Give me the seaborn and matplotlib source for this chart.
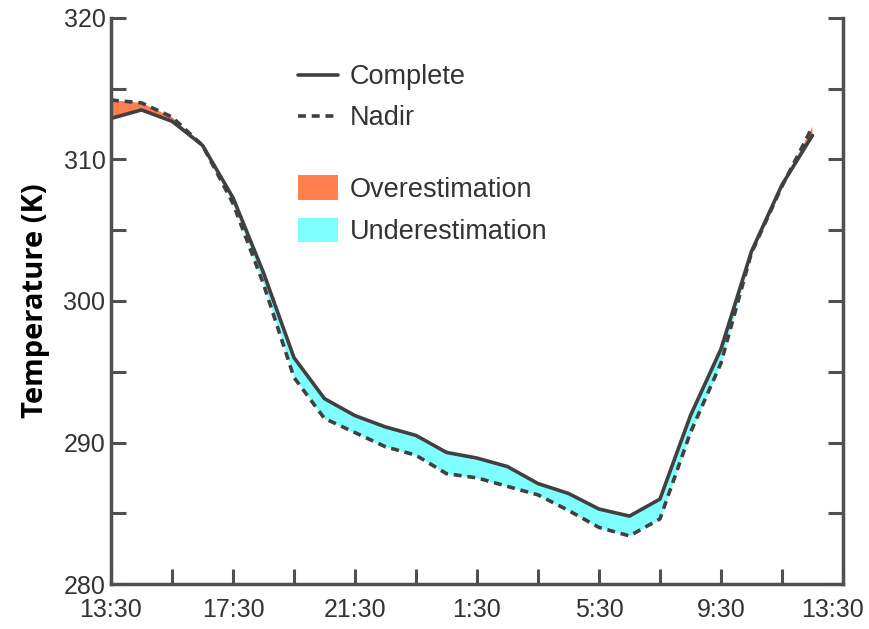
import matplotlib
matplotlib.use("Agg")
import matplotlib.pyplot as plt
import matplotlib.patches as mpatches
import matplotlib.transforms as mtransforms
from matplotlib.lines import Line2D
import numpy as np
import pandas as pd
import seaborn as sns

# hourly samples starting at 13:30
hours = list(range(24))
complete = [312.9, 313.5, 312.7, 311.0, 307.3, 302.0, 296.0, 293.1, 291.9, 291.1,
            290.5, 289.3, 288.9, 288.3, 287.1, 286.4, 285.3, 284.8, 286.0, 291.9,
            296.6, 303.5, 308.2, 311.7]
nadir = [314.2, 314.0, 313.0, 311.0, 306.9, 301.2, 294.6, 291.7, 290.7, 289.7,
         289.1, 287.8, 287.5, 286.9, 286.3, 285.2, 284.0, 283.4, 284.6, 290.7,
         295.6, 303.4, 308.1, 312.3]
tick_hours = list(range(0, 25, 2))
tick_labels = ["13:30", "", "17:30", "", "21:30", "", "1:30", "", "5:30", "", "9:30", "", "13:30"]

sns.set_style("white")
plt.rcParams["font.family"] = ["Liberation Sans", "DejaVu Sans"]

df = pd.DataFrame({"hour": hours, "Complete": complete, "Nadir": nadir})

fig = plt.figure(figsize=(8.69, 6.29), dpi=100)
ax = fig.add_axes([0.1277, 0.0715, 0.8423, 0.9])

over_c = "#FF7F4F"
under_c = "#7FFFFF"
line_c = "#404040"
spine_c = "#505050"
text_c = "#333333"

x = np.array(hours, dtype=float)
c = np.array(complete)
n = np.array(nadir)
ax.fill_between(x, c, n, where=n >= c, interpolate=True, color=over_c, lw=0)
ax.fill_between(x, c, n, where=n <= c, interpolate=True, color=under_c, lw=0)

sns.lineplot(data=df, x="hour", y="Complete", ax=ax, color=line_c, lw=2.6)
sns.lineplot(data=df, x="hour", y="Nadir", ax=ax, color=line_c, lw=2.6,
             linestyle=(0, (2.2, 1.6)))

ax.set_xlim(0, 24)
ax.set_ylim(280, 320)
ax.set_xticks(tick_hours)
ax.set_xticklabels(tick_labels)
ax.set_yticks(range(280, 321, 5))
ax.set_yticklabels([str(v) if v % 10 == 0 else "" for v in range(280, 321, 5)])

ax.set_xlabel("")
ax.set_ylabel("Temperature (K)", fontsize=21, fontweight="bold", family=["Open Sans"],
              labelpad=10, color="black")

for side in ["left", "bottom", "right"]:
    ax.spines[side].set_visible(True)
    ax.spines[side].set_color(spine_c)
    ax.spines[side].set_linewidth(2.5)
ax.spines["top"].set_visible(False)

ax.tick_params(axis="both", direction="in", length=11, width=2.2, color=spine_c,
               labelsize=18, labelcolor=text_c)
ax.tick_params(axis="y", right=True, left=True, pad=4)
ax.tick_params(axis="x", bottom=True, pad=10)

# last label sits a bit left of its tick, like the original
last = ax.get_xticklabels()[-1]
last.set_transform(last.get_transform() + mtransforms.ScaledTranslation(-0.1, 0, fig.dpi_scale_trans))

h1 = [Line2D([], [], color=line_c, lw=2.6),
      Line2D([], [], color=line_c, lw=2.6, linestyle=(0, (2.2, 1.6)))]
leg1 = ax.legend(h1, ["Complete", "Nadir"], loc="upper left", bbox_to_anchor=(0.255, 0.918),
                 frameon=False, fontsize=19.5, handlelength=1.5, handletextpad=0.42,
                 labelspacing=0.55, borderpad=0, borderaxespad=0, labelcolor=text_c)
ax.add_artist(leg1)
h2 = [mpatches.Patch(color=over_c, lw=0), mpatches.Patch(color=under_c, lw=0)]
ax.legend(h2, ["Overestimation", "Underestimation"], loc="upper left",
          bbox_to_anchor=(0.255, 0.722), frameon=False, fontsize=19.5, handlelength=1.5,
          handleheight=1.0, handletextpad=0.42, labelspacing=0.55, borderpad=0,
          borderaxespad=0, labelcolor=text_c)

fig.savefig("out.png", dpi=100)
